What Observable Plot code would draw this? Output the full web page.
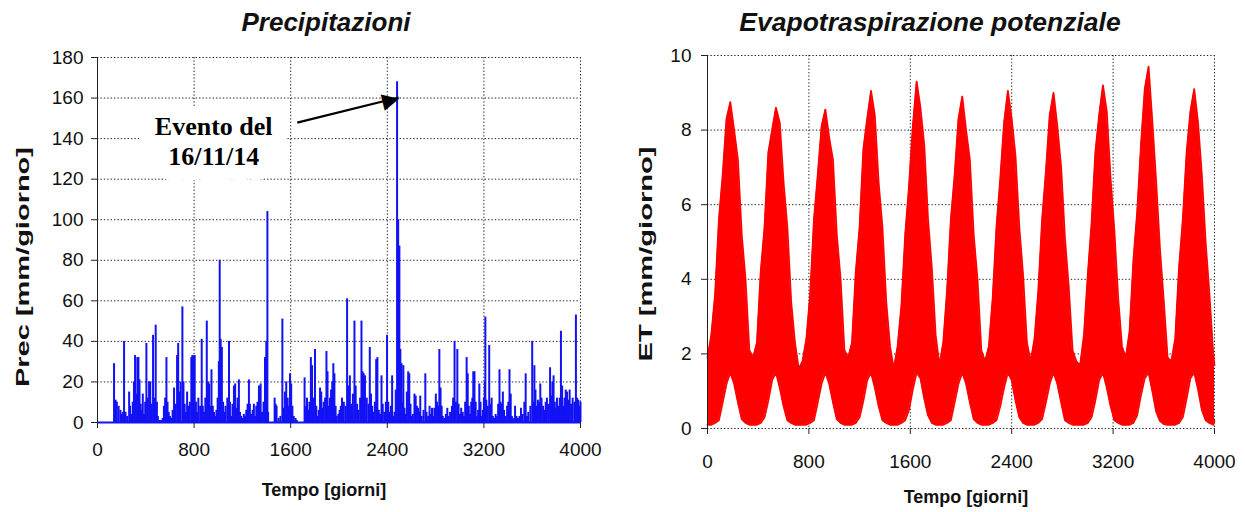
<!DOCTYPE html>
<html><head><meta charset="utf-8">
<script src="https://cdn.jsdelivr.net/npm/d3@7"></script>
<script src="https://cdn.jsdelivr.net/npm/@observablehq/plot@0.6"></script>
<style>
body{margin:0;background:#fff;}
#wrap{position:relative;width:1245px;height:512px;display:flex;}
#wrap svg{display:block;overflow:visible}
</style></head><body><div id="wrap"></div>
<script>
// ---------- data ----------
const xTicks = [0, 800, 1600, 2400, 3200, 4000];
const precYTicks = [0, 20, 40, 60, 80, 100, 120, 140, 160, 180];
const etYTicks = [0, 2, 4, 6, 8, 10];

const precTitle = "Precipitazioni";
const etTitle = "Evapotraspirazione potenziale";
const xLabel = "Tempo [giorni]";
const precYLabel = "Prec [mm/giorno]";
const etYLabel = "ET [mm/giorno]";

const noteLines = ["Evento del", "16/11/14"];
const noteDay = [962, 962];
const noteVal = [146, 131];
const arrowFrom = [1654, 147.9];
const arrowTo = [2494, 160.3];

const precDay = [137,150,160,175,190,200,210,220,232,245,262,270,282,292,302,311,320,330,339,348,358,367,375,385,395,405,415,427,437,448,460,470,482,492,500,512,525,540,550,560,571,580,590,600,612,622,634,645,659,668,678,688,703,712,722,732,742,752,765,777,785,797,805,815,825,835,850,863,872,882,893,905,915,925,935,944,955,965,975,985,995,1005,1012,1020,1030,1040,1050,1060,1075,1089,1097,1107,1118,1130,1140,1150,1160,1171,1180,1190,1200,1212,1222,1232,1243,1254,1262,1272,1285,1295,1305,1315,1325,1337,1345,1351,1362,1375,1387,1398,1407,1413,1467,1475,1483,1500,1515,1531,1540,1552,1563,1575,1585,1594,1604,1614,1625,1640,1650,1715,1725,1735,1745,1755,1767,1777,1790,1801,1812,1822,1832,1843,1853,1863,1873,1885,1896,1905,1915,1925,1934,1944,1953,1962,1972,1982,1995,2005,2015,2025,2040,2055,2067,2078,2090,2100,2115,2128,2138,2150,2162,2175,2186,2196,2205,2215,2230,2245,2255,2265,2275,2285,2297,2308,2318,2330,2340,2352,2362,2375,2388,2398,2408,2418,2430,2440,2450,2460,2470,2481,2490,2500,2508,2518,2526,2533,2542,2552,2562,2573,2582,2592,2602,2612,2625,2635,2645,2655,2665,2673,2685,2700,2715,2725,2738,2750,2760,2770,2780,2790,2802,2812,2822,2831,2841,2850,2860,2872,2885,2897,2908,2920,2935,2945,2957,2968,2980,2990,3002,3012,3025,3035,3045,3057,3066,3075,3085,3095,3104,3112,3122,3132,3142,3152,3162,3172,3182,3192,3200,3207,3212,3220,3232,3244,3254,3264,3274,3285,3297,3307,3318,3329,3338,3347,3357,3367,3380,3392,3402,3412,3422,3432,3445,3458,3470,3482,3495,3507,3520,3535,3546,3556,3568,3585,3600,3610,3618,3627,3637,3647,3657,3667,3677,3690,3700,3712,3722,3735,3748,3758,3767,3777,3787,3797,3805,3815,3828,3838,3848,3858,3868,3878,3888,3898,3910,3922,3935,3950,3962,3972,3982,3992,4000];
const precVal = [29,11,10,8,6,4,5,40,5,3,15,8,4,10,20,33,14,32,32,21,9,6,14,4,10,39,12,20,20,9,43,12,48,10,3,1,1,2,8,12,32,10,5,3,2,6,17,9,33,39,15,20,57,20,9,5,15,8,10,32,33,33,33,10,5,12,8,41,8,5,12,50,20,19,8,26,8,5,3,6,12,30,80,41,37,10,5,8,12,40,10,3,9,18,19,7,12,21,5,3,2,4,3,6,9,21,9,4,6,9,3,8,10,18,15,19,5,10,32,40,104,5,12,9,8,2,3,51,7,15,20,12,8,24,19,8,3,2,1,22,8,12,6,10,32,28,12,36,8,3,6,17,15,7,10,12,35,25,8,12,16,20,29,24,8,3,4,6,8,12,10,8,61,18,23,9,14,50,18,9,6,12,50,25,24,23,12,9,37,14,8,5,10,31,32,6,4,23,9,5,10,43,10,5,8,23,3,5,16,168,100,87,36,29,10,28,7,4,15,25,24,9,3,4,14,13,8,7,5,13,3,6,24,5,3,8,4,7,3,7,14,10,8,36,17,8,3,2,4,7,3,5,8,12,40,10,36,9,4,7,5,3,10,32,24,8,4,10,12,25,25,10,3,6,19,10,3,6,12,20,52,11,8,38,9,12,3,2,4,3,9,26,10,9,15,6,3,8,10,26,14,3,2,8,3,2,3,7,4,10,24,3,5,8,40,10,28,16,8,11,10,19,12,8,6,10,12,9,27,13,20,23,10,7,12,8,12,45,18,8,12,16,15,11,16,9,12,10,53,12,11,8,10];

// ET: upper / lower envelope of the daily series, one reading every 30 days
const etStep = 30;
const etHi = [1.9,2.5,3.6,5.6,6.8,8.3,8.75,8.0,7.2,5.2,4.0,2.1,
  1.9,2.3,4.2,5.4,7.4,8.0,8.6,8.2,6.6,5.4,3.4,2.3,1.6,
  1.8,2.4,3.6,5.6,6.8,8.1,8.55,7.8,7.2,5.2,4.0,2.1,
  1.9,2.3,4.2,5.4,7.5,8.3,9.05,8.4,6.6,5.4,3.4,2.2,
  1.6,2.2,3.3,5.2,6.5,8.1,9.3,8.6,7.6,5.6,4.3,2.5,1.7,
  2.3,3.7,5.6,6.8,8.3,8.9,8.0,7.2,5.2,4.0,2.1,
  1.8,2.2,3.5,5.4,6.7,8.2,9.05,8.3,7.3,5.4,4.1,2.3,
  1.8,2.4,3.7,5.6,6.9,8.4,9.0,8.1,7.0,5.1,3.8,2.1,1.8,
  1.7,2.5,4.1,5.5,7.4,8.4,9.2,8.5,6.7,5.3,3.5,2.2,
  1.9,2.6,4.5,5.8,7.6,9.1,9.7,8.2,6.6,4.8,3.4,1.9,
  1.8,2.4,4.3,5.6,7.4,8.5,9.1,8.2,6.8,5.0,3.6,2.0,
  1.7];
const etLo = [0.1,0.1,0.15,0.22,0.7,1.2,1.5,1.2,0.7,0.25,0.15,0.1,
  0.1,0.1,0.15,0.3,0.75,1.3,1.5,1.1,0.6,0.22,0.15,0.1,0.1,
  0.1,0.1,0.15,0.22,0.7,1.2,1.5,1.2,0.7,0.25,0.15,0.1,
  0.1,0.1,0.15,0.3,0.75,1.3,1.5,1.1,0.6,0.22,0.15,0.1,
  0.1,0.1,0.15,0.22,0.5,1.05,1.5,1.35,0.8,0.35,0.15,0.1,0.1,
  0.1,0.15,0.22,0.7,1.2,1.5,1.2,0.7,0.25,0.15,0.1,
  0.1,0.1,0.15,0.22,0.6,1.1,1.5,1.3,0.75,0.3,0.15,0.1,
  0.1,0.1,0.15,0.25,0.7,1.2,1.5,1.2,0.7,0.22,0.15,0.1,0.1,
  0.1,0.1,0.15,0.3,0.75,1.3,1.5,1.1,0.6,0.22,0.15,0.1,
  0.1,0.1,0.15,0.35,0.9,1.35,1.5,1.0,0.45,0.2,0.12,0.1,
  0.1,0.1,0.15,0.3,0.8,1.35,1.5,1.05,0.5,0.22,0.15,0.1,
  0.2];

// ---------- tables ----------
const prec = precDay.map((d, i) => ({day: d, val: precVal[i]}));
const et = etHi.map((h, i) => ({day: Math.min(i * etStep, 4000), hi: h, lo: etLo[i]}));

const BLUE = "#1212f5", RED = "#ff0000";
const gridStyle = {stroke: "#000", strokeOpacity: 0.85, strokeWidth: 1, strokeDasharray: "1.4,2"};
const sans = "Liberation Sans, Arial, sans-serif";
const serif = "Liberation Serif, Times New Roman, serif";
const fmt = d => String(d);

function frameTexts(title, ylab, o) {
  return [
    Plot.text([title], {text: d => d, frameAnchor: "top", lineAnchor: "middle", dx: o.tdx, dy: o.tdy,
      fontSize: o.tsize, fontWeight: "bold", fontStyle: "italic", fill: "#111"}),
    Plot.text([xLabel], {text: d => d, frameAnchor: "bottom", lineAnchor: "middle", dx: o.xdx, dy: o.xdy,
      fontSize: 18, fontWeight: "bold", fill: "#111"}),
    Plot.text([ylab], {text: d => d, frameAnchor: "left", textAnchor: "middle", lineAnchor: "middle",
      rotate: -90, dx: o.ydx, dy: o.ydy, fontSize: 19, fontWeight: "bold", fill: "#111"})
  ];
}

const noteOpts = {x: (d, i) => noteDay[i], y: (d, i) => noteVal[i], text: d => d,
  fontFamily: serif, fontWeight: "bold", fontSize: 26};

const left = Plot.plot({
  width: 615, height: 512,
  marginLeft: 97, marginRight: 35, marginTop: 57, marginBottom: 90,
  style: {fontFamily: sans, fontSize: "19px", color: "#111", background: "#fff"},
  x: {domain: [0, 4000]},
  y: {domain: [0, 180]},
  marks: [
    Plot.gridX(xTicks, gridStyle),
    Plot.gridY(precYTicks, gridStyle),
    Plot.ruleX(prec, {x: "day", y1: 0, y2: "val", stroke: BLUE, strokeWidth: 2}),
    Plot.ruleY([0], {stroke: BLUE, strokeWidth: 2}),
    Plot.ruleX([0], {stroke: "#222", strokeWidth: 1}),
    Plot.axisX(xTicks, {tickSize: 6, tickPadding: 14, label: null, stroke: "#222", tickFormat: fmt}),
    Plot.axisY(precYTicks, {tickSize: 6, tickPadding: 8, label: null, stroke: "#222", tickFormat: fmt}),
    Plot.text(noteLines, {...noteOpts, fill: "#fff", stroke: "#fff", strokeWidth: 30, strokeLinejoin: "round"}),
    Plot.text(noteLines, {...noteOpts, fill: "#000"}),
    Plot.link([0], {x1: arrowFrom[0], y1: arrowFrom[1], x2: arrowTo[0], y2: arrowTo[1], stroke: "#000", strokeWidth: 2.2}),
    Plot.text(["\u25B6"], {x: arrowTo[0], y: arrowTo[1], text: d => d, rotate: -13.8, textAnchor: "end",
      lineAnchor: "middle", fontFamily: "DejaVu Sans", fontSize: 22, fill: "#000"}),
    ...frameTexts(precTitle, precYLabel, {tsize: 26, tdx: -13, tdy: -35, xdx: -15, xdy: 68, ydx: -75, ydy: 27})
  ]
});

const right = Plot.plot({
  width: 630, height: 512,
  marginLeft: 92, marginRight: 31, marginTop: 55, marginBottom: 84,
  style: {fontFamily: sans, fontSize: "19px", color: "#111", background: "#fff"},
  x: {domain: [0, 4000]},
  y: {domain: [0, 10]},
  marks: [
    Plot.gridX(xTicks, gridStyle),
    Plot.gridY(etYTicks, gridStyle),
    Plot.areaY(et, {x: "day", y1: "lo", y2: "hi", fill: RED}),
    Plot.lineY(et, {x: "day", y: "hi", stroke: RED, strokeWidth: 1.8}),
    Plot.lineY(et, {x: "day", y: "lo", stroke: RED, strokeWidth: 1.8}),
    Plot.ruleX([0], {stroke: "#222", strokeWidth: 1}),
    Plot.axisX(xTicks, {tickSize: 6, tickPadding: 20, label: null, stroke: "#222", tickFormat: fmt}),
    Plot.axisY(etYTicks, {tickSize: 6, tickPadding: 10, label: null, stroke: "#222", tickFormat: fmt}),
    ...frameTexts(etTitle, etYLabel, {tsize: 26.5, tdx: -31, tdy: -33, xdx: 5, xdy: 69, ydx: -62, ydy: 12})
  ]
});

// the original figure's vertical labels are drawn elongated along their reading direction
function stretch(svg, label, len) {
  d3.select(svg).selectAll("text")
    .filter(function () { return this.textContent === label; })
    .attr("textLength", len).attr("lengthAdjust", "spacingAndGlyphs");
}
stretch(left, precYLabel, 240);
stretch(right, etYLabel, 215);

const wrap = document.getElementById("wrap");
wrap.appendChild(left);
wrap.appendChild(right);
</script>
</body></html>
